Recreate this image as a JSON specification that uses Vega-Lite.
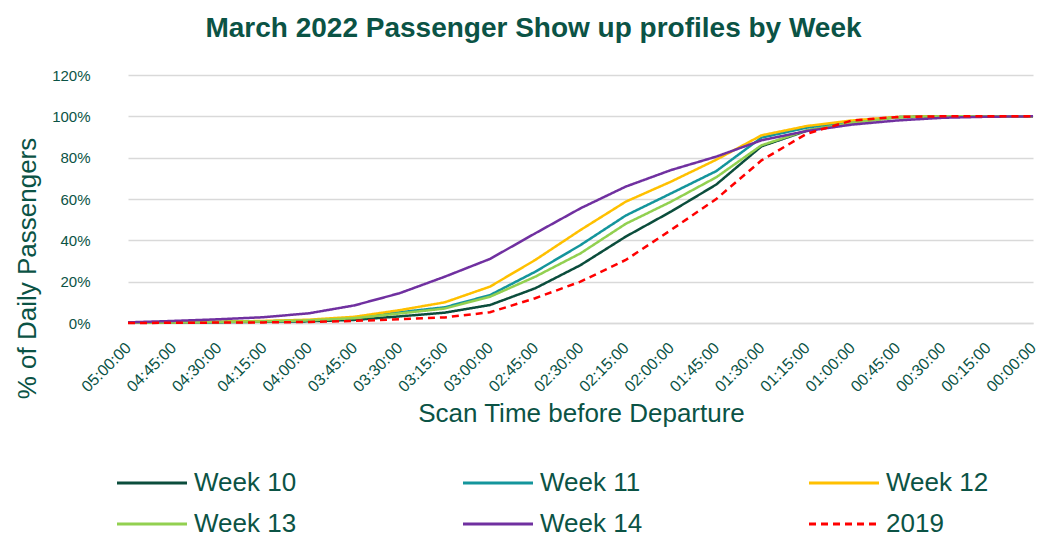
{
  "$schema": "https://vega.github.io/schema/vega-lite/v6.json",
  "autosize": {"type": "none"},
  "width": 933,
  "height": 248,
  "padding": {"left": 105, "top": 75, "right": 0, "bottom": 213},
  "background": "white",
  "config": {
    "font": "Liberation Sans",
    "view": {"stroke": null}
  },
  "title": {
    "text": "March 2022 Passenger Show up profiles by Week",
    "fontSize": 28,
    "fontWeight": "bold",
    "color": "#0b5345",
    "font": "Liberation Sans",
    "anchor": "middle",
    "dx": -38,
    "offset": 25
  },
  "data": {
    "values": [
      {"t": "05:00:00", "s": "Week 10", "v": 0.002},
      {"t": "04:45:00", "s": "Week 10", "v": 0.003},
      {"t": "04:30:00", "s": "Week 10", "v": 0.004},
      {"t": "04:15:00", "s": "Week 10", "v": 0.006},
      {"t": "04:00:00", "s": "Week 10", "v": 0.008},
      {"t": "03:45:00", "s": "Week 10", "v": 0.015},
      {"t": "03:30:00", "s": "Week 10", "v": 0.032},
      {"t": "03:15:00", "s": "Week 10", "v": 0.05},
      {"t": "03:00:00", "s": "Week 10", "v": 0.087},
      {"t": "02:45:00", "s": "Week 10", "v": 0.168},
      {"t": "02:30:00", "s": "Week 10", "v": 0.28},
      {"t": "02:15:00", "s": "Week 10", "v": 0.418},
      {"t": "02:00:00", "s": "Week 10", "v": 0.539},
      {"t": "01:45:00", "s": "Week 10", "v": 0.67},
      {"t": "01:30:00", "s": "Week 10", "v": 0.855},
      {"t": "01:15:00", "s": "Week 10", "v": 0.93},
      {"t": "01:00:00", "s": "Week 10", "v": 0.973},
      {"t": "00:45:00", "s": "Week 10", "v": 0.996},
      {"t": "00:30:00", "s": "Week 10", "v": 1.0},
      {"t": "00:15:00", "s": "Week 10", "v": 1.0},
      {"t": "00:00:00", "s": "Week 10", "v": 1.0},

      {"t": "05:00:00", "s": "Week 11", "v": 0.003},
      {"t": "04:45:00", "s": "Week 11", "v": 0.004},
      {"t": "04:30:00", "s": "Week 11", "v": 0.005},
      {"t": "04:15:00", "s": "Week 11", "v": 0.008},
      {"t": "04:00:00", "s": "Week 11", "v": 0.013},
      {"t": "03:45:00", "s": "Week 11", "v": 0.025},
      {"t": "03:30:00", "s": "Week 11", "v": 0.052},
      {"t": "03:15:00", "s": "Week 11", "v": 0.076},
      {"t": "03:00:00", "s": "Week 11", "v": 0.135},
      {"t": "02:45:00", "s": "Week 11", "v": 0.248},
      {"t": "02:30:00", "s": "Week 11", "v": 0.377},
      {"t": "02:15:00", "s": "Week 11", "v": 0.52},
      {"t": "02:00:00", "s": "Week 11", "v": 0.627},
      {"t": "01:45:00", "s": "Week 11", "v": 0.735},
      {"t": "01:30:00", "s": "Week 11", "v": 0.897},
      {"t": "01:15:00", "s": "Week 11", "v": 0.945},
      {"t": "01:00:00", "s": "Week 11", "v": 0.976},
      {"t": "00:45:00", "s": "Week 11", "v": 0.996},
      {"t": "00:30:00", "s": "Week 11", "v": 1.0},
      {"t": "00:15:00", "s": "Week 11", "v": 1.0},
      {"t": "00:00:00", "s": "Week 11", "v": 1.0},

      {"t": "05:00:00", "s": "Week 12", "v": 0.003},
      {"t": "04:45:00", "s": "Week 12", "v": 0.004},
      {"t": "04:30:00", "s": "Week 12", "v": 0.006},
      {"t": "04:15:00", "s": "Week 12", "v": 0.01},
      {"t": "04:00:00", "s": "Week 12", "v": 0.016},
      {"t": "03:45:00", "s": "Week 12", "v": 0.03},
      {"t": "03:30:00", "s": "Week 12", "v": 0.062},
      {"t": "03:15:00", "s": "Week 12", "v": 0.1},
      {"t": "03:00:00", "s": "Week 12", "v": 0.176},
      {"t": "02:45:00", "s": "Week 12", "v": 0.305},
      {"t": "02:30:00", "s": "Week 12", "v": 0.45},
      {"t": "02:15:00", "s": "Week 12", "v": 0.587},
      {"t": "02:00:00", "s": "Week 12", "v": 0.684},
      {"t": "01:45:00", "s": "Week 12", "v": 0.79},
      {"t": "01:30:00", "s": "Week 12", "v": 0.908},
      {"t": "01:15:00", "s": "Week 12", "v": 0.953},
      {"t": "01:00:00", "s": "Week 12", "v": 0.98},
      {"t": "00:45:00", "s": "Week 12", "v": 0.997},
      {"t": "00:30:00", "s": "Week 12", "v": 1.0},
      {"t": "00:15:00", "s": "Week 12", "v": 1.0},
      {"t": "00:00:00", "s": "Week 12", "v": 1.0},

      {"t": "05:00:00", "s": "Week 13", "v": 0.003},
      {"t": "04:45:00", "s": "Week 13", "v": 0.004},
      {"t": "04:30:00", "s": "Week 13", "v": 0.005},
      {"t": "04:15:00", "s": "Week 13", "v": 0.008},
      {"t": "04:00:00", "s": "Week 13", "v": 0.013},
      {"t": "03:45:00", "s": "Week 13", "v": 0.023},
      {"t": "03:30:00", "s": "Week 13", "v": 0.046},
      {"t": "03:15:00", "s": "Week 13", "v": 0.07},
      {"t": "03:00:00", "s": "Week 13", "v": 0.127},
      {"t": "02:45:00", "s": "Week 13", "v": 0.224},
      {"t": "02:30:00", "s": "Week 13", "v": 0.337},
      {"t": "02:15:00", "s": "Week 13", "v": 0.48},
      {"t": "02:00:00", "s": "Week 13", "v": 0.587},
      {"t": "01:45:00", "s": "Week 13", "v": 0.705},
      {"t": "01:30:00", "s": "Week 13", "v": 0.86},
      {"t": "01:15:00", "s": "Week 13", "v": 0.932},
      {"t": "01:00:00", "s": "Week 13", "v": 0.968},
      {"t": "00:45:00", "s": "Week 13", "v": 0.995},
      {"t": "00:30:00", "s": "Week 13", "v": 1.0},
      {"t": "00:15:00", "s": "Week 13", "v": 1.0},
      {"t": "00:00:00", "s": "Week 13", "v": 1.0},

      {"t": "05:00:00", "s": "Week 14", "v": 0.003},
      {"t": "04:45:00", "s": "Week 14", "v": 0.01},
      {"t": "04:30:00", "s": "Week 14", "v": 0.018},
      {"t": "04:15:00", "s": "Week 14", "v": 0.028},
      {"t": "04:00:00", "s": "Week 14", "v": 0.047},
      {"t": "03:45:00", "s": "Week 14", "v": 0.085},
      {"t": "03:30:00", "s": "Week 14", "v": 0.144},
      {"t": "03:15:00", "s": "Week 14", "v": 0.224},
      {"t": "03:00:00", "s": "Week 14", "v": 0.31},
      {"t": "02:45:00", "s": "Week 14", "v": 0.434},
      {"t": "02:30:00", "s": "Week 14", "v": 0.555},
      {"t": "02:15:00", "s": "Week 14", "v": 0.66},
      {"t": "02:00:00", "s": "Week 14", "v": 0.74},
      {"t": "01:45:00", "s": "Week 14", "v": 0.805},
      {"t": "01:30:00", "s": "Week 14", "v": 0.884},
      {"t": "01:15:00", "s": "Week 14", "v": 0.929},
      {"t": "01:00:00", "s": "Week 14", "v": 0.96},
      {"t": "00:45:00", "s": "Week 14", "v": 0.98},
      {"t": "00:30:00", "s": "Week 14", "v": 0.993},
      {"t": "00:15:00", "s": "Week 14", "v": 0.998},
      {"t": "00:00:00", "s": "Week 14", "v": 1.0},

      {"t": "05:00:00", "s": "2019", "v": 0.0},
      {"t": "04:45:00", "s": "2019", "v": 0.001},
      {"t": "04:30:00", "s": "2019", "v": 0.002},
      {"t": "04:15:00", "s": "2019", "v": 0.003},
      {"t": "04:00:00", "s": "2019", "v": 0.005},
      {"t": "03:45:00", "s": "2019", "v": 0.01},
      {"t": "03:30:00", "s": "2019", "v": 0.018},
      {"t": "03:15:00", "s": "2019", "v": 0.027},
      {"t": "03:00:00", "s": "2019", "v": 0.052},
      {"t": "02:45:00", "s": "2019", "v": 0.12},
      {"t": "02:30:00", "s": "2019", "v": 0.2},
      {"t": "02:15:00", "s": "2019", "v": 0.305},
      {"t": "02:00:00", "s": "2019", "v": 0.45},
      {"t": "01:45:00", "s": "2019", "v": 0.6},
      {"t": "01:30:00", "s": "2019", "v": 0.787},
      {"t": "01:15:00", "s": "2019", "v": 0.916},
      {"t": "01:00:00", "s": "2019", "v": 0.98},
      {"t": "00:45:00", "s": "2019", "v": 0.997},
      {"t": "00:30:00", "s": "2019", "v": 1.0},
      {"t": "00:15:00", "s": "2019", "v": 1.0},
      {"t": "00:00:00", "s": "2019", "v": 1.0}
    ]
  },
  "mark": {"type": "line", "strokeWidth": 2.5},
  "encoding": {
    "x": {
      "field": "t",
      "type": "ordinal",
      "sort": null,
      "scale": {"range": [23, 928], "padding": 0},
      "axis": {
        "title": "Scan Time before Departure",
        "titleFontSize": 26,
        "titleFontWeight": "normal",
        "titleColor": "#0b5345",
        "titleFont": "Liberation Sans",
        "titlePadding": 6,
        "titleX": 476,
        "labelAngle": -45,
        "labelAlign": "right",
        "labelBaseline": "middle",
        "labelFontSize": 16,
        "labelColor": "#0b5345",
        "labelPadding": 22,
        "ticks": false,
        "domain": true,
        "domainColor": "#d9d9d9",
        "domainWidth": 1.5,
        "grid": false
      }
    },
    "y": {
      "field": "v",
      "type": "quantitative",
      "scale": {"domain": [0, 1.2], "nice": false},
      "axis": {
        "title": "% of Daily Passengers",
        "titleFontSize": 26,
        "titleFontWeight": "normal",
        "titleColor": "#0b5345",
        "titleFont": "Liberation Sans",
        "titlePadding": 11,
        "titleY": 193,
        "format": ".0%",
        "values": [0, 0.2, 0.4, 0.6, 0.8, 1.0, 1.2],
        "labelFontSize": 15,
        "labelColor": "#0b5345",
        "labelPadding": 15,
        "ticks": false,
        "domain": false,
        "grid": true,
        "gridColor": "#d9d9d9",
        "gridWidth": 1.5
      }
    },
    "color": {
      "field": "s",
      "type": "nominal",
      "sort": null,
      "scale": {
        "domain": ["Week 10", "Week 11", "Week 12", "Week 13", "Week 14", "2019"],
        "range": ["#0b4d3c", "#14959c", "#ffc000", "#92d050", "#7030a0", "#ff0000"]
      },
      "legend": {
        "title": null,
        "orient": "none",
        "legendX": 6,
        "legendY": 395,
        "direction": "horizontal",
        "columns": 3,
        "gridAlign": "all",
        "columnPadding": 160,
        "rowPadding": 15,
        "symbolType": "M-1,0H9",
        "symbolSize": 196,
        "symbolStrokeWidth": 3,
        "labelFontSize": 26,
        "labelFont": "Liberation Sans",
        "labelColor": "#0b5345",
        "labelOffset": 57,
        "labelLimit": 300
      }
    },
    "strokeDash": {
      "field": "s",
      "type": "nominal",
      "sort": null,
      "scale": {
        "domain": ["Week 10", "Week 11", "Week 12", "Week 13", "Week 14", "2019"],
        "range": [[1, 0], [1, 0], [1, 0], [1, 0], [1, 0], [7, 5]]
      },
      "legend": {
        "title": null,
        "orient": "none",
        "legendX": 6,
        "legendY": 395,
        "direction": "horizontal",
        "columns": 3,
        "gridAlign": "all",
        "columnPadding": 160,
        "rowPadding": 15,
        "symbolType": "M-1,0H9",
        "symbolSize": 196,
        "symbolStrokeWidth": 3,
        "labelFontSize": 26,
        "labelFont": "Liberation Sans",
        "labelColor": "#0b5345",
        "labelOffset": 57,
        "labelLimit": 300
      }
    }
  }
}
